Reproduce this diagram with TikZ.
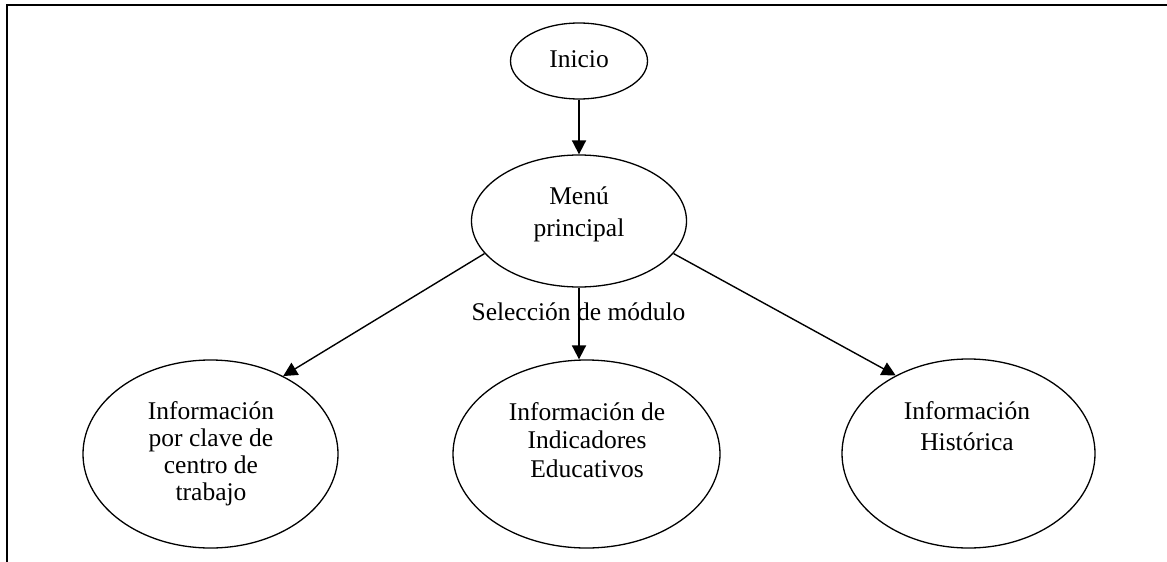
\documentclass[tikz,border=0pt]{standalone}
\usepackage{fontspec}
\setmainfont{Liberation Serif}
\usetikzlibrary{arrows.meta,shapes.geometric}
\begin{document}
\begin{tikzpicture}[x=1pt,y=-1pt,
  oval/.style={draw, ellipse, line width=1.3pt, inner sep=0pt},
  lbl/.style={font=\fontsize{25.5}{27.5}\selectfont, align=center, inner sep=0pt, anchor=base},
  arr/.style={-{Triangle[length=14pt,width=14pt]}, line width=1.8pt},
  darr/.style={-{Triangle[length=14pt,width=14pt]}, line width=1.4pt}]
\useasboundingbox (0,0) rectangle (1167,562);
\draw[line width=2pt] (6.5,562) -- (6.5,5) -- (1167,5);
% ellipses
\node[oval, minimum width=137pt, minimum height=76pt] (inicio) at (579,61) {};
\node[oval, minimum width=215pt, minimum height=132pt] (menu) at (579,221) {};
\node[oval, minimum width=255pt, minimum height=188pt] (izq) at (210.5,454) {};
\node[oval, minimum width=267pt, minimum height=188pt] (mid) at (586.5,454) {};
\node[oval, minimum width=253pt, minimum height=189pt] (der) at (968.5,453.5) {};
% texts (base anchor = baseline of last line)
\node[lbl] (tinicio) at (579,67) {Inicio};
\node[lbl, font=\fontsize{25.5}{32}\selectfont] (tmenu) at (579,236) {Menú\\principal};
\node[lbl, font=\fontsize{25.5}{27}\selectfont] (tizq) at (211,500.5) {Información\\por clave de\\centro de\\trabajo};
\node[lbl, font=\fontsize{25.5}{28.5}\selectfont] (tmid) at (587,477) {Información de\\Indicadores\\Educativos};
\node[lbl, font=\fontsize{25.5}{31}\selectfont] (tder) at (967,450) {Información\\Histórica};
\node[lbl] (tsel) at (578.5,320) {Selección de módulo};
% connectors
\draw[arr] (inicio.south) -- (menu.north);
\draw[arr] (menu.south) -- (menu.south |- mid.north);
\draw[darr] (menu.199) -- (izq.47);
\draw[darr] (menu.341) -- (der.133);
\end{tikzpicture}
\end{document}
